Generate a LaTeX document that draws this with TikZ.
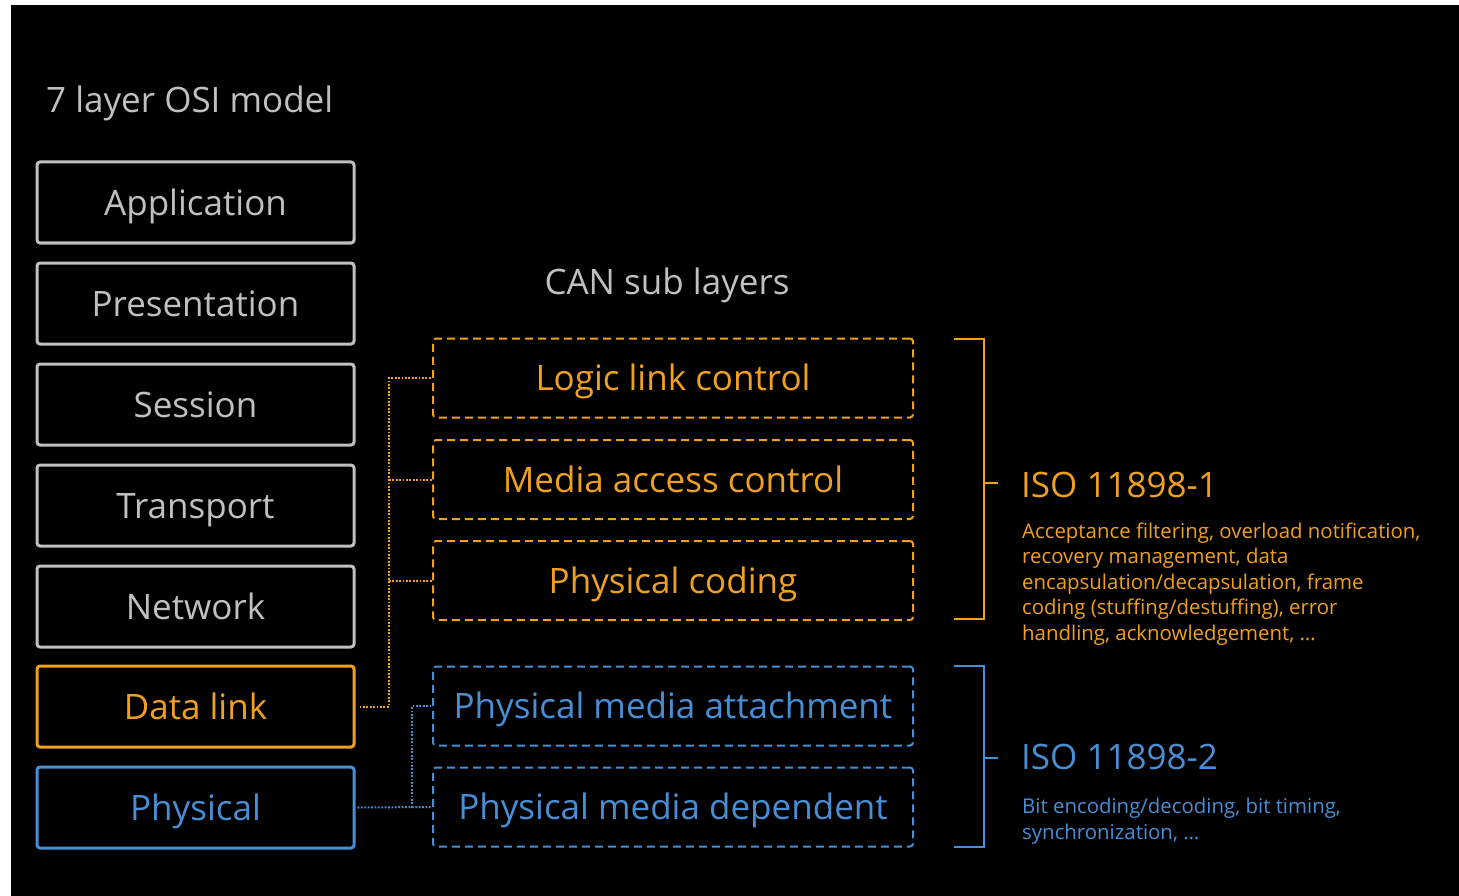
\documentclass[tikz,border=0pt]{standalone}
\usepackage{fontspec}
\setmainfont{Open Sans}
\definecolor{osigray}{RGB}{192,192,192}
\definecolor{canorange}{RGB}{240,160,32}
\definecolor{canblue}{RGB}{72,142,212}
\tikzset{
  osibox/.style={draw=osigray, text=osigray, line width=3pt, rounded corners=3pt,
    minimum width=317pt, minimum height=81pt, inner sep=0pt,
    font=\fontsize{35}{40}\selectfont, text height=25pt, text depth=0pt},
  subbox/.style={draw, dash pattern=on 8pt off 5pt, line width=2pt, rounded corners=3pt,
    minimum width=480pt, minimum height=79pt, inner sep=0pt,
    font=\fontsize{35}{40}\selectfont, text height=25pt, text depth=0pt},
  dotlink/.style={line width=2pt, dash pattern=on 1.8pt off 1.6pt},
  bracket/.style={line width=2pt},
  heading/.style={font=\fontsize{35}{40}\selectfont, inner sep=0pt},
  desc/.style={font=\fontsize{20.4}{25.5}\selectfont, align=left, inner sep=0pt, anchor=base west}
}
\begin{document}
\begin{tikzpicture}[x=1pt,y=-1pt]
  % canvas
  \useasboundingbox (0,0) rectangle (1459,896);
  \fill[white] (0,0) rectangle (1459,896);
  \fill[black] (11,5) rectangle (1459,896);

  % OSI stack
  \node[heading, text=osigray, anchor=base west] (title) at (46,113) {7 layer OSI model};
  \node[osibox] (app) at (195.5,202.5) {Application};
  \node[osibox] (pres) at (195.5,303.5) {Presentation};
  \node[osibox] (sess) at (195.5,404.5) {Session};
  \node[osibox] (trans) at (195.5,505.5) {Transport};
  \node[osibox] (net) at (195.5,606.5) {Network};
  \node[osibox, draw=canorange, text=canorange] (dl) at (195.5,706.5) {Data link};
  \node[osibox, draw=canblue, text=canblue] (ph) at (195.5,807.5) {Physical};

  % CAN sub layers
  \node[heading, text=osigray, text height=25pt, text depth=0pt] (cantitle) at (667,282) {CAN sub layers};
  \node[subbox, draw=canorange, text=canorange] (llc) at (673,378) {Logic link control};
  \node[subbox, draw=canorange, text=canorange] (mac) at (673,479.5) {Media access control};
  \node[subbox, draw=canorange, text=canorange] (pc) at (673,580.5) {Physical coding};
  \node[subbox, draw=canblue, text=canblue] (pma) at (673,706) {Physical media attachment};
  \node[subbox, draw=canblue, text=canblue] (pmd) at (673,807) {Physical media dependent};

  % bus lines joining the OSI layers to their sub layers
  \coordinate (obus) at (389,0);
  \coordinate (bbus) at (412,0);
  \draw[dotlink, canorange] ([xshift=4pt]dl.east) -| (llc.west -| obus) -- (llc.west);
  \draw[dotlink, canorange] (mac.west -| obus) -- (mac.west);
  \draw[dotlink, canorange] (pc.west -| obus) -- (pc.west);
  \draw[dotlink, canblue] ([xshift=2pt]ph.east) -- (pmd.west);
  \draw[dotlink, canblue] (ph.east -| bbus) |- (pma.west);

  % brackets
  \coordinate (bx) at (984,0);
  \coordinate (otop) at (954,339);
  \coordinate (obot) at (954,619);
  \coordinate (omid) at (984,483);
  \draw[bracket, canorange] (otop) -- (otop -| bx) -- (obot -| bx) -- (obot);
  \draw[bracket, canorange] (omid) -- ++(14,0);
  \coordinate (btop) at (954,666);
  \coordinate (bbot) at (954,847);
  \coordinate (bmid) at (984,758);
  \draw[bracket, canblue] (btop) -- (btop -| bx) -- (bbot -| bx) -- (bbot);
  \draw[bracket, canblue] (bmid) -- ++(14,0);

  % standards (the description nodes sit on the baseline of their last line)
  \node[heading, text=canorange, anchor=base west] (iso1) at (1021,497) {ISO 11898-1};
  \node[desc, text=canorange] (iso1d) at (1022,640) {Acceptance filtering, overload notification,\\recovery management, data\\encapsulation/decapsulation, frame\\coding (stuffing/destuffing), error\\handling, acknowledgement, \dots};
  \node[heading, text=canblue, anchor=base west] (iso2) at (1021,769) {ISO 11898-2};
  \node[desc, text=canblue] (iso2d) at (1022,839) {Bit encoding/decoding, bit timing,\\synchronization, \dots};
\end{tikzpicture}
\end{document}
